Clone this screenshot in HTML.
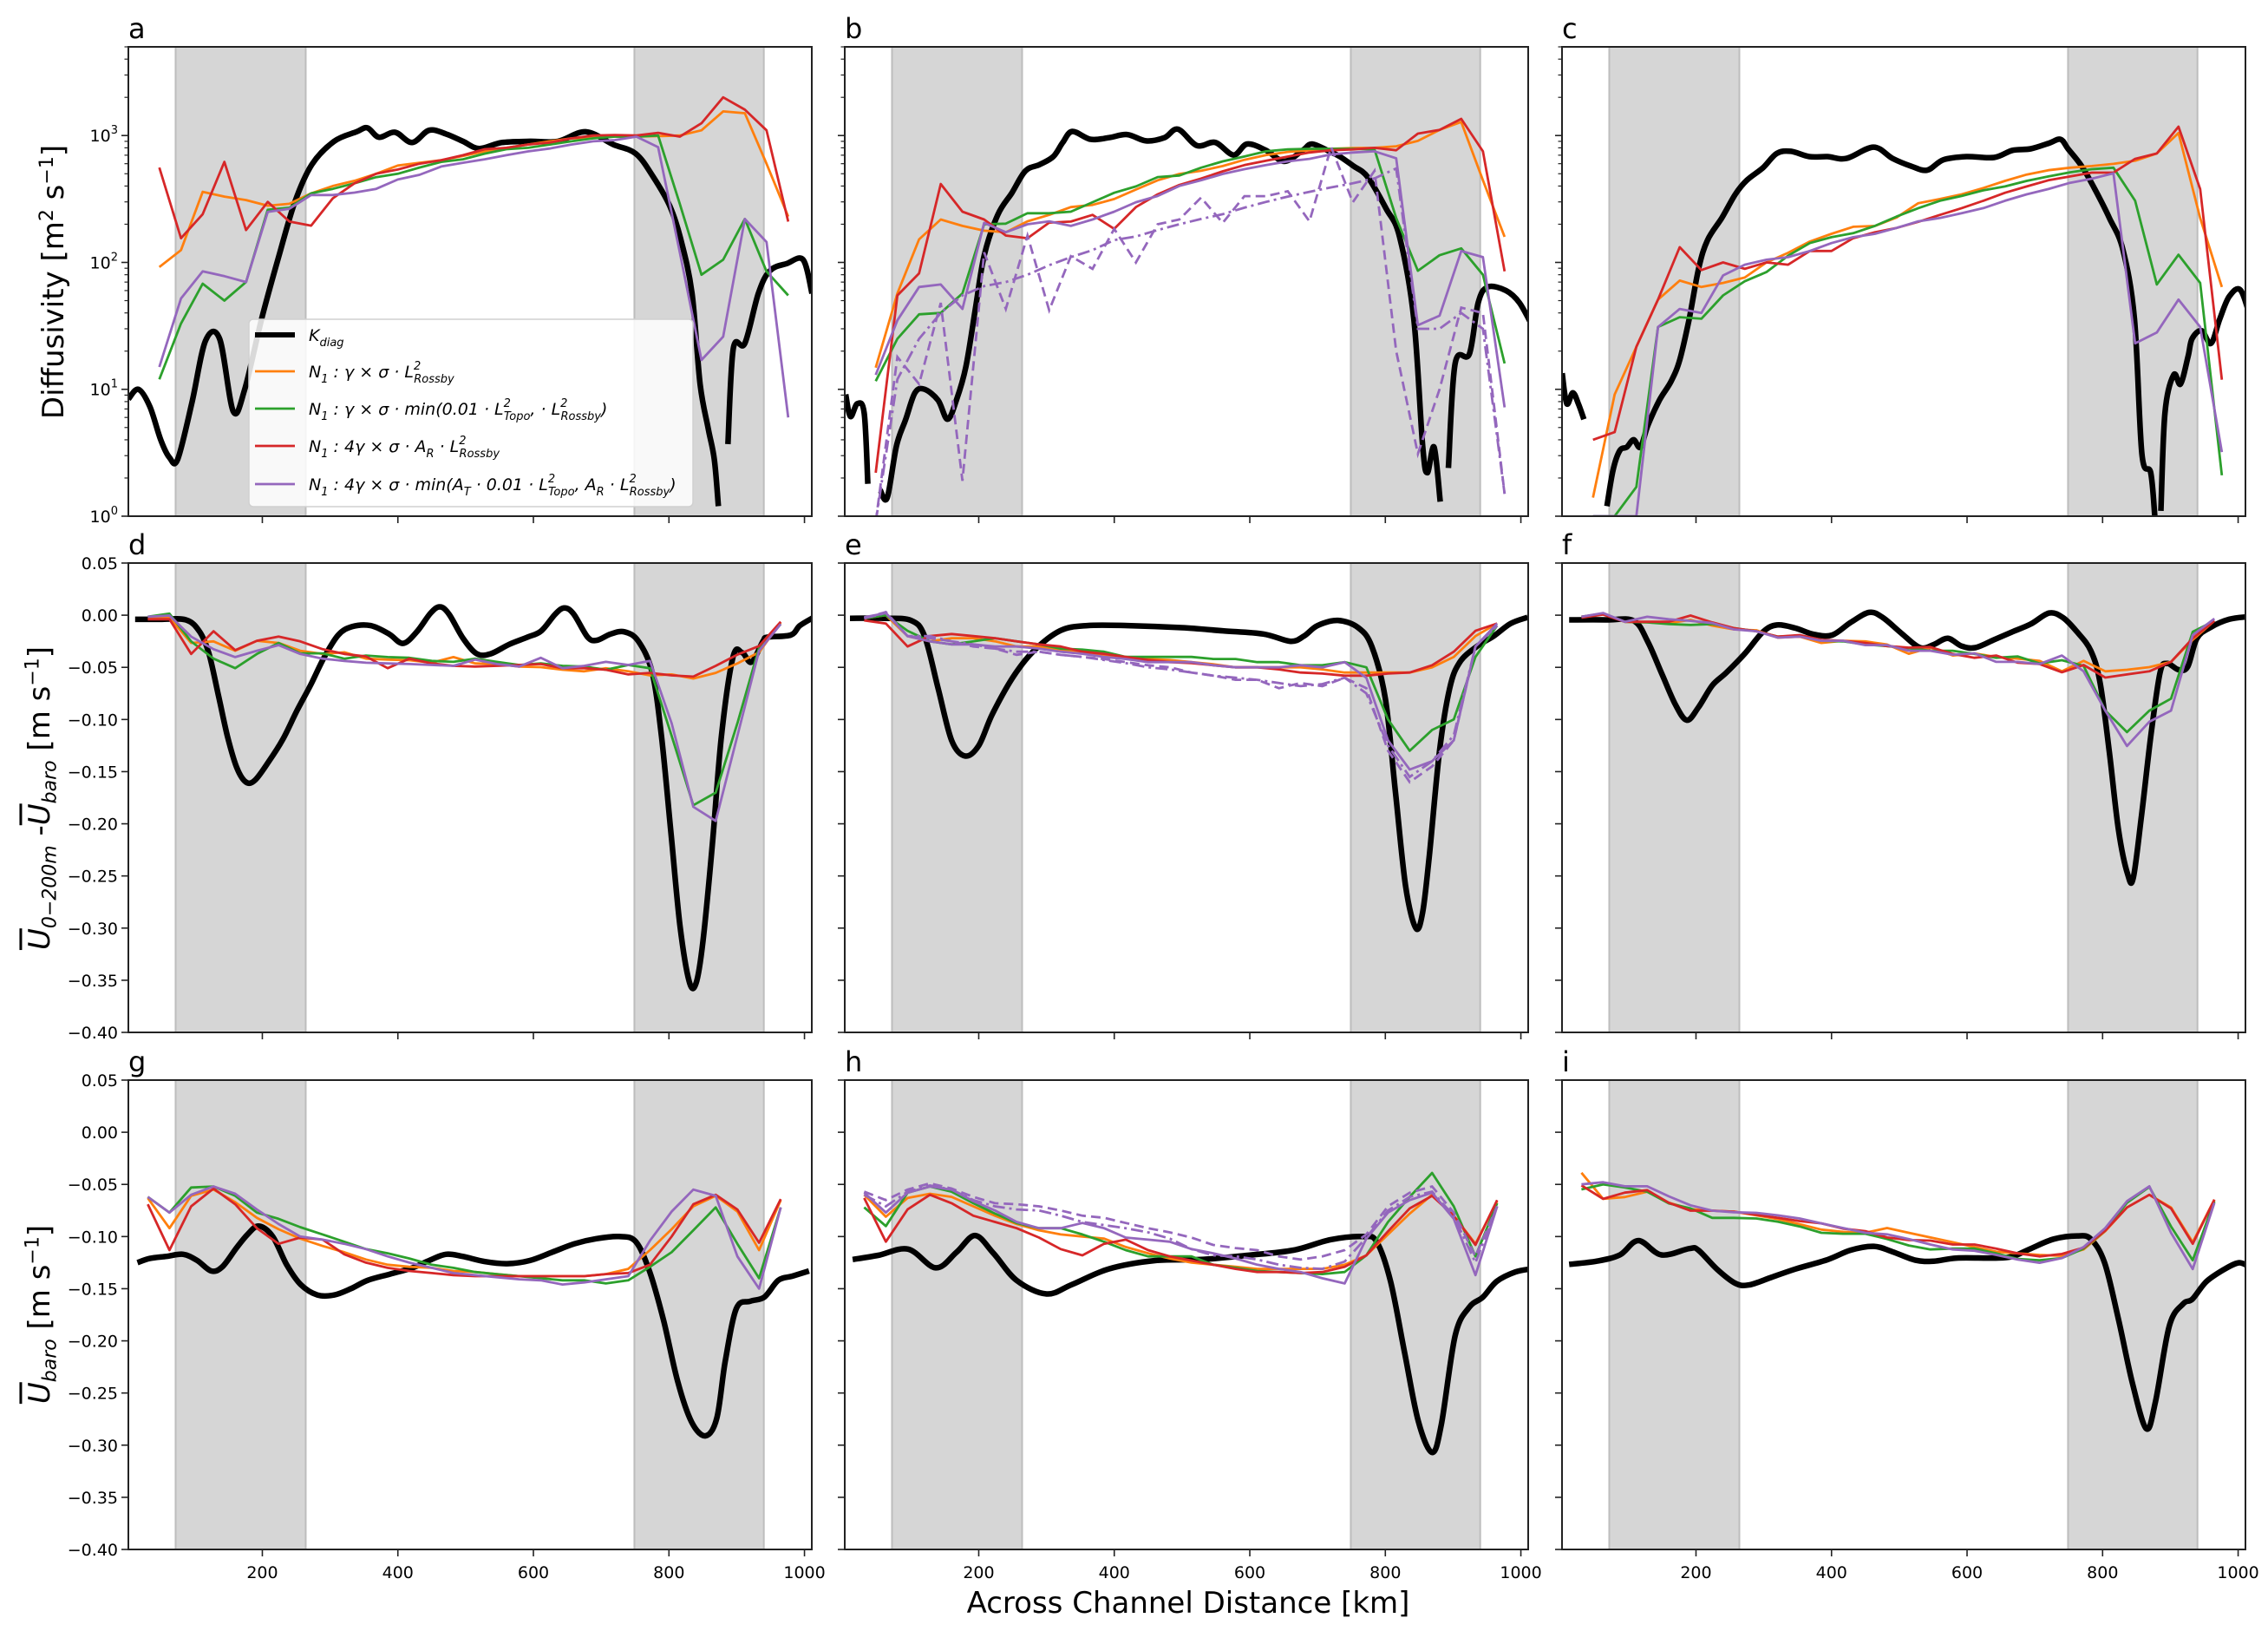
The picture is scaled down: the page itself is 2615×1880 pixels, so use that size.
<!DOCTYPE html>
<html><head><meta charset="utf-8">
<style>
body{margin:0;background:#fff;}
#wrap{position:relative;width:2615px;height:1880px;overflow:hidden;font-family:"DejaVu Sans","Liberation Sans",sans-serif;}
.ylab{position:absolute;white-space:nowrap;transform:translate(-50%,-50%) rotate(-90deg);font-size:34px;color:#000;}
.ov{text-decoration:overline;}
svg text{font-family:"DejaVu Sans","Liberation Sans",sans-serif;}
</style></head>
<body>
<div id="wrap">
<svg id="fig" width="2615" height="1880" xmlns="http://www.w3.org/2000/svg"></svg>
<div class="ylab" style="left:62px;top:325px;">Diffusivity [m<sup style="font-size:22px">2</sup> s<sup style="font-size:22px">−1</sup>]</div>
<div class="ylab" style="left:48px;top:920px;"><i class="ov">U</i><sub style="font-size:22px"><i>0−200m</i></sub> -<i class="ov">U</i><sub style="font-size:22px"><i>baro</i></sub> [m s<sup style="font-size:22px">−1</sup>]</div>
<div class="ylab" style="left:48px;top:1515px;"><i class="ov">U</i><sub style="font-size:22px"><i>baro</i></sub> [m s<sup style="font-size:22px">−1</sup>]</div>
<div style="position:absolute;left:1370px;top:1848px;transform:translate(-50%,-50%);font-size:34px;white-space:nowrap;">Across Channel Distance [km]</div>
</div>
<script>
// ---------- data ----------
const xModelTop=[48,80,112,144,176,208,240,272,304,336,368,400,432,464,496,528,560,592,624,656,688,720,752,784,816,848,880,912,944,976];
const xModelBot=[31,63,95,128,160,192,224,256,289,321,353,385,417,450,482,514,546,579,611,643,675,707,740,772,804,836,869,901,933,965];

const aBlackX=[2.6,17,34,50,63,75,96,116,137,157,174,199,224,248,273,306,339,355,372,396,421,446,471,496,520,553,595,636,677,718,751,776,801,817,834,846,858,867,873,880,887,895,912,932,949,974,998,1011];
const aBlackY=[8.4,10,7.3,4,2.9,2.8,7.8,24,25,6.7,10,36,110,300,590,900,1070,1150,970,1060,880,1100,1030,900,790,880,900,900,1070,850,720,480,280,155,57,11,4.9,2.8,1.2,null,3.7,21,23,57,86,98,105,57];
const aOrange=[92,125,360,330,310,280,290,350,400,440,500,580,610,640,690,750,800,850,900,950,960,980,980,990,1000,1100,1550,1500,600,230];
const aGreen=[12,33,68,50,70,260,270,350,380,420,470,500,560,620,650,720,780,800,850,900,950,980,980,1000,290,80,105,220,85,55];
const aRed=[560,155,240,620,180,300,210,195,320,420,500,540,600,640,700,780,800,850,880,950,1000,1010,1000,1050,980,1250,2000,1600,1100,210];
const aPurple=[15,52,85,78,70,250,265,340,340,355,380,450,490,570,610,650,700,750,790,850,900,920,980,810,120,17,26,220,145,6];

const bBlackX=[3.7,10.6,20.8,31,36.4,45,54.8,65,78.7,92.3,106,120,140,154,167,181,195,208,228,249,269,290,310,324,338,365,392,419,447,474,494,522,549,576,596,624,651,678,692,719,733,753,774,801,821,842,855,862,872,881,887,893,903,924,937,951,978,998,1019];
const bBlackY=[9.1,6.1,7.7,6.5,1.8,null,1.6,1.4,3.6,5.8,9.4,10,8.2,5.8,8.2,15,43,113,237,354,527,591,682,882,1077,933,962,1018,907,962,1122,834,882,702,857,764,626,764,857,743,682,575,471,266,159,36,3.6,2.2,3.5,1.3,null,2.4,16,19,48,64,60,48,30];
const bOrange=[14.8,57,152,218,194,178,173,211,237,273,284,316,375,444,498,527,575,644,702,743,765,786,796,800,823,907,1108,1278,444,159];
const bGreen=[11.6,25,39,40,57,200,202,244,244,251,298,354,397,471,484,558,626,683,751,778,786,786,786,778,224,86,114,129,80,16];
const bRed=[2.2,55,82,415,251,218,163,155,206,210,237,184,273,344,408,458,522,585,633,682,735,765,778,800,765,1035,1108,1354,751,85];
const bPurple=[13,35,64,67,43,205,173,200,211,194,218,251,298,334,401,444,498,543,585,626,655,710,735,751,662,32,38,123,110,7.2];
const bPurpleDash=[0.9,18,11,48,1.9,120,43,163,42,112,89,184,100,200,218,324,205,333,333,364,211,810,298,527,20,3.1,10,44,40,1.5];
const bPurpleDashDot=[0.9,12,25,40,55,65,70,80,95,110,125,150,160,180,200,220,240,270,300,330,360,390,420,460,550,30,30,40,30,1.5];

const cBlackX=[2.5,9.3,18.2,26.4,34.6,50,68.6,77.5,87.7,97.9,108,118,129,146,163,176,190,204,217,238,258,275,299,319,340,367,394,422,462,490,517,541,565,599,640,667,694,721,738,749,769,789,810,830,847,858,871,877,882,886,892,905,915,926,932,946,960,973,987,1004,1021];
const cBlackY=[13.4,7.7,9.4,7.7,5.8,null,1.2,2.3,3.3,3.5,4.0,3.5,5.2,8.2,11.5,17,36,90,150,224,344,444,558,722,751,682,682,660,810,660,575,533,644,682,672,764,786,871,934,786,575,374,224,126,36,3.1,2.2,1,null,1.1,6.5,13,11,18,25,29,23,36,54,60,32];
const cOrange=[1.4,9.1,21.6,51,72,64,69,76,100,119,146,168,191,194,226,293,316,344,386,439,493,533,558,575,598,633,722,1047,224,64];
const cGreen=[1,1,1.7,31,37,36,55,71,84,113,142,158,170,194,230,268,306,334,370,397,439,476,513,543,558,306,67,115,69,2.1];
const cRed=[4.0,4.6,21.6,51,132,87,100,89,100,96,123,123,155,173,187,209,237,268,306,354,397,444,476,510,510,655,722,1174,379,11.9];
const cPurple=[1,1,1,31,43,40,79,96,105,110,123,142,158,168,187,211,224,244,268,306,344,379,424,457,504,23,28,51,31,3.2];

const dBlackX=[12.3,46.3,87.2,107.6,121.3,134.9,148.5,162.2,175.8,189.4,209.8,230.3,250.7,271.2,291.6,312,332.5,359.7,387,407.4,427.9,448.3,462,475.5,496,516.4,536.9,564.1,591.4,611.8,632.2,645.9,659.5,680,693.6,714,734.4,754.9,775.3,789,802.6,816.2,829.8,840,850.3,863.9,877.5,894.6,908.2,921.8,938.8,945.6,979.7,993.3,1013.8];
const dBlackY=[-0.004,-0.004,-0.0045,-0.016,-0.037,-0.076,-0.116,-0.146,-0.160,-0.158,-0.140,-0.119,-0.092,-0.067,-0.040,-0.019,-0.011,-0.010,-0.018,-0.027,-0.016,0.002,0.008,0.001,-0.022,-0.037,-0.037,-0.028,-0.021,-0.015,0.001,0.007,0.001,-0.021,-0.024,-0.018,-0.016,-0.025,-0.055,-0.116,-0.206,-0.297,-0.351,-0.353,-0.312,-0.221,-0.116,-0.040,-0.036,-0.045,-0.025,-0.021,-0.019,-0.010,-0.002];
const dOrange=[-0.0033,-0.0024,-0.0266,-0.0251,-0.0341,-0.0245,-0.0266,-0.0341,-0.0372,-0.0356,-0.0417,-0.0426,-0.0432,-0.0456,-0.0402,-0.0462,-0.0468,-0.0492,-0.0498,-0.0523,-0.0538,-0.0508,-0.0538,-0.0577,-0.0568,-0.0607,-0.0553,-0.0462,-0.0356,-0.0069];
const dGreen=[-0.0015,0.0015,-0.0251,-0.0417,-0.0508,-0.0372,-0.0266,-0.0366,-0.0366,-0.0417,-0.0387,-0.0402,-0.0408,-0.0438,-0.0447,-0.0417,-0.0447,-0.0477,-0.0462,-0.0486,-0.0492,-0.0523,-0.0477,-0.0508,-0.1157,-0.1822,-0.1701,-0.1036,-0.0311,-0.0085];
const dRed=[-0.0039,-0.0039,-0.0372,-0.0154,-0.0335,-0.0245,-0.0205,-0.0251,-0.0326,-0.0372,-0.0396,-0.0508,-0.0417,-0.0462,-0.0486,-0.0492,-0.0486,-0.0477,-0.0468,-0.0508,-0.0508,-0.0523,-0.0568,-0.0553,-0.0577,-0.0589,-0.0486,-0.0378,-0.0296,-0.0063];
const dPurple=[-0.0015,-0.0003,-0.0205,-0.0326,-0.0402,-0.0341,-0.0287,-0.0372,-0.0417,-0.0438,-0.0456,-0.0462,-0.0468,-0.0477,-0.0486,-0.0426,-0.0468,-0.0492,-0.0408,-0.0508,-0.0486,-0.0447,-0.0477,-0.0438,-0.1036,-0.1837,-0.1973,-0.1157,-0.0341,-0.0085];

const eBlackX=[10,60,100,120,140,160,180,200,220,250,280,320,360,420,500,560,620,660,680,700,730,760,780,800,815,830,845,855,865,880,895,910,935,960,985,1010];
const eBlackY=[-0.003,-0.003,-0.005,-0.02,-0.07,-0.12,-0.135,-0.125,-0.095,-0.06,-0.035,-0.015,-0.01,-0.01,-0.012,-0.015,-0.018,-0.025,-0.02,-0.01,-0.005,-0.012,-0.03,-0.08,-0.17,-0.26,-0.3,-0.285,-0.23,-0.13,-0.07,-0.045,-0.03,-0.02,-0.008,-0.002];
const eOrange=[-0.003,0,-0.02,-0.025,-0.022,-0.022,-0.025,-0.03,-0.03,-0.033,-0.035,-0.038,-0.04,-0.042,-0.043,-0.045,-0.047,-0.05,-0.05,-0.05,-0.05,-0.052,-0.055,-0.055,-0.055,-0.055,-0.05,-0.04,-0.02,-0.008];
const eGreen=[-0.003,0,-0.015,-0.025,-0.028,-0.025,-0.022,-0.025,-0.028,-0.032,-0.033,-0.035,-0.04,-0.04,-0.04,-0.04,-0.042,-0.042,-0.045,-0.045,-0.048,-0.048,-0.045,-0.05,-0.1,-0.13,-0.11,-0.1,-0.04,-0.01];
const eRed=[-0.005,-0.008,-0.03,-0.02,-0.018,-0.02,-0.022,-0.025,-0.028,-0.03,-0.035,-0.037,-0.04,-0.043,-0.045,-0.046,-0.048,-0.05,-0.05,-0.052,-0.055,-0.056,-0.058,-0.058,-0.056,-0.055,-0.048,-0.035,-0.015,-0.008];
const ePurple=[-0.002,0.002,-0.02,-0.025,-0.028,-0.028,-0.03,-0.03,-0.032,-0.035,-0.037,-0.04,-0.042,-0.045,-0.045,-0.045,-0.048,-0.05,-0.05,-0.05,-0.048,-0.05,-0.045,-0.06,-0.12,-0.148,-0.14,-0.12,-0.03,-0.008];
const ePurpleDash=[-0.003,0.003,-0.02,-0.022,-0.025,-0.03,-0.032,-0.038,-0.035,-0.038,-0.04,-0.042,-0.045,-0.048,-0.05,-0.055,-0.058,-0.062,-0.062,-0.07,-0.065,-0.068,-0.06,-0.07,-0.13,-0.16,-0.145,-0.12,-0.03,-0.01];
const ePurpleDashDot=[-0.003,0.002,-0.02,-0.02,-0.025,-0.028,-0.032,-0.035,-0.035,-0.038,-0.04,-0.043,-0.046,-0.05,-0.052,-0.055,-0.058,-0.06,-0.062,-0.065,-0.068,-0.066,-0.06,-0.075,-0.125,-0.155,-0.14,-0.115,-0.03,-0.01];

const fBlackX=[12.8,67.3,108.1,128.6,149,169.5,186.5,203.5,224,244.4,271.6,298.9,319.3,346.6,373.8,401.1,428.3,455.6,476,503.3,530.5,551,571.4,591.9,612.3,639.5,666.8,694,721.3,741.7,762.2,782.6,796.2,809.9,823.5,837.1,845.3,857.6,871.2,884.8,895,912.1,925.7,939.3,959.8,987,1014.3];
const fBlackY=[-0.0045,-0.0045,-0.0054,-0.0251,-0.0553,-0.0855,-0.1006,-0.0885,-0.0674,-0.0553,-0.0372,-0.016,-0.0094,-0.0124,-0.0184,-0.019,-0.0069,0.0027,-0.0024,-0.0175,-0.0311,-0.0281,-0.0221,-0.0296,-0.0311,-0.0236,-0.016,-0.0085,0.0021,-0.0024,-0.016,-0.0341,-0.0644,-0.1308,-0.2063,-0.2486,-0.2517,-0.1912,-0.1157,-0.0553,-0.0462,-0.0523,-0.0492,-0.0221,-0.0115,-0.0039,-0.0015];
const fOrange=[-0.0015,0.0015,-0.0063,-0.0069,-0.0076,-0.0045,-0.01,-0.0136,-0.0145,-0.0215,-0.0205,-0.0266,-0.0245,-0.0251,-0.0281,-0.037,-0.0311,-0.0387,-0.0366,-0.0402,-0.0417,-0.0438,-0.0538,-0.0438,-0.0538,-0.0523,-0.0498,-0.0447,-0.0236,-0.0054];
const fGreen=[-0.0015,0.0015,-0.0063,-0.0069,-0.0085,-0.0094,-0.0085,-0.0124,-0.0154,-0.0205,-0.0196,-0.0245,-0.0251,-0.0281,-0.0296,-0.0317,-0.0341,-0.0341,-0.0372,-0.0408,-0.0396,-0.0462,-0.0432,-0.0486,-0.0915,-0.1121,-0.0915,-0.08,-0.016,-0.0054];
const fRed=[-0.0024,0.0006,-0.0063,-0.0063,-0.0063,-0.0003,-0.0069,-0.0124,-0.0154,-0.0205,-0.019,-0.0236,-0.0245,-0.0266,-0.0296,-0.0311,-0.0305,-0.0372,-0.0408,-0.0387,-0.0456,-0.0468,-0.0547,-0.0477,-0.0598,-0.0568,-0.0538,-0.0447,-0.0221,-0.0054];
const fPurple=[-0.0015,0.0021,-0.0063,-0.0015,-0.0039,-0.0054,-0.0076,-0.0136,-0.0154,-0.0215,-0.0205,-0.0245,-0.0245,-0.0287,-0.0287,-0.0341,-0.0341,-0.0378,-0.0366,-0.0447,-0.0447,-0.0468,-0.0387,-0.0538,-0.0915,-0.1254,-0.1021,-0.0915,-0.019,-0.0033];

const gBlackX=[15.7,33.9,58.6,83.3,104,124.6,141,161.7,178.2,194.6,215.3,235.9,256.5,281.2,305.9,330.7,355.4,388.4,421.3,446.1,470.8,495.5,528.5,561.5,594.5,627.5,660.4,693.4,726.4,751.1,771.7,792.3,812.9,833.6,854.2,870.7,883,899.5,920,940.8,961.3,982,1006.7];
const gBlackY=[-0.125,-0.121,-0.119,-0.117,-0.123,-0.133,-0.129,-0.111,-0.098,-0.090,-0.100,-0.127,-0.146,-0.156,-0.156,-0.150,-0.142,-0.136,-0.130,-0.123,-0.117,-0.119,-0.124,-0.126,-0.123,-0.115,-0.107,-0.102,-0.100,-0.105,-0.134,-0.181,-0.239,-0.278,-0.291,-0.274,-0.220,-0.169,-0.162,-0.158,-0.142,-0.138,-0.133];
const gOrange=[-0.063,-0.092,-0.061,-0.055,-0.067,-0.082,-0.093,-0.102,-0.109,-0.115,-0.122,-0.127,-0.129,-0.130,-0.133,-0.134,-0.136,-0.138,-0.138,-0.138,-0.138,-0.136,-0.131,-0.113,-0.093,-0.071,-0.061,-0.076,-0.113,-0.065];
const gGreen=[-0.062,-0.077,-0.053,-0.052,-0.061,-0.077,-0.083,-0.091,-0.098,-0.105,-0.112,-0.116,-0.121,-0.127,-0.130,-0.134,-0.136,-0.138,-0.140,-0.142,-0.142,-0.145,-0.142,-0.129,-0.115,-0.094,-0.072,-0.107,-0.140,-0.072];
const gRed=[-0.069,-0.113,-0.071,-0.054,-0.069,-0.092,-0.107,-0.101,-0.103,-0.117,-0.125,-0.130,-0.133,-0.135,-0.137,-0.138,-0.138,-0.138,-0.138,-0.138,-0.138,-0.136,-0.135,-0.127,-0.100,-0.069,-0.060,-0.074,-0.106,-0.064];
const gPurple=[-0.062,-0.077,-0.060,-0.052,-0.059,-0.074,-0.088,-0.100,-0.103,-0.107,-0.112,-0.119,-0.125,-0.130,-0.135,-0.137,-0.139,-0.141,-0.142,-0.146,-0.144,-0.141,-0.138,-0.104,-0.076,-0.055,-0.061,-0.119,-0.150,-0.072];

const hBlackX=[14,51.4,95.7,136.6,167.3,194.5,221.8,255.8,300.1,337.6,392.1,460.2,528.3,596.5,664.6,719.1,766.8,787.2,807.7,828.1,848.6,869,882.7,903.1,923.5,944,964.4,991.7,1015.5];
const hBlackY=[-0.122,-0.118,-0.112,-0.130,-0.115,-0.099,-0.116,-0.142,-0.155,-0.146,-0.131,-0.123,-0.122,-0.118,-0.113,-0.103,-0.100,-0.105,-0.143,-0.21,-0.277,-0.307,-0.28,-0.195,-0.168,-0.158,-0.143,-0.134,-0.131];
const hOrange=[-0.06,-0.081,-0.063,-0.059,-0.062,-0.071,-0.08,-0.088,-0.094,-0.098,-0.1,-0.102,-0.11,-0.116,-0.121,-0.125,-0.127,-0.129,-0.131,-0.131,-0.131,-0.131,-0.127,-0.118,-0.098,-0.078,-0.06,-0.08,-0.107,-0.066];
const hGreen=[-0.072,-0.09,-0.058,-0.052,-0.057,-0.068,-0.078,-0.087,-0.092,-0.092,-0.098,-0.105,-0.113,-0.119,-0.119,-0.119,-0.127,-0.13,-0.133,-0.134,-0.135,-0.136,-0.134,-0.118,-0.086,-0.062,-0.039,-0.071,-0.119,-0.068];
const hRed=[-0.063,-0.105,-0.074,-0.06,-0.068,-0.08,-0.086,-0.092,-0.101,-0.112,-0.118,-0.107,-0.103,-0.113,-0.119,-0.123,-0.127,-0.131,-0.134,-0.134,-0.135,-0.134,-0.129,-0.118,-0.095,-0.073,-0.061,-0.08,-0.108,-0.065];
const hPurple=[-0.058,-0.077,-0.058,-0.052,-0.055,-0.066,-0.075,-0.086,-0.092,-0.092,-0.087,-0.092,-0.101,-0.103,-0.105,-0.112,-0.116,-0.121,-0.127,-0.131,-0.134,-0.14,-0.145,-0.102,-0.077,-0.065,-0.058,-0.083,-0.137,-0.071];
const hPurpleDash=[-0.057,-0.065,-0.055,-0.049,-0.054,-0.062,-0.068,-0.069,-0.071,-0.075,-0.08,-0.082,-0.087,-0.092,-0.096,-0.101,-0.108,-0.111,-0.113,-0.119,-0.122,-0.119,-0.113,-0.098,-0.071,-0.058,-0.052,-0.077,-0.119,-0.071];
const hPurpleDashDot=[-0.06,-0.071,-0.057,-0.051,-0.055,-0.065,-0.071,-0.074,-0.075,-0.08,-0.086,-0.089,-0.092,-0.096,-0.102,-0.112,-0.118,-0.119,-0.122,-0.127,-0.13,-0.131,-0.124,-0.101,-0.075,-0.062,-0.057,-0.08,-0.125,-0.071];

const iBlackX=[12.8,53.6,87.7,115,149,190,203.5,230.8,258,278.5,312.5,346.6,394.3,428.3,462.4,489.7,523.7,551,585,639.5,666.8,694,728.1,762.2,782.6,803,823.5,843.9,864.4,878,898.4,918.9,932.5,953,980.2,1000.6,1014.3];
const iBlackY=[-0.1267,-0.1236,-0.1176,-0.1039,-0.1176,-0.1115,-0.113,-0.1312,-0.1448,-0.1464,-0.1388,-0.1312,-0.1221,-0.113,-0.1094,-0.1145,-0.1227,-0.1236,-0.1206,-0.1206,-0.1191,-0.1115,-0.1024,-0.0994,-0.1024,-0.1252,-0.1797,-0.2403,-0.2842,-0.2585,-0.1858,-0.1645,-0.16,-0.1433,-0.1312,-0.1252,-0.1282];
const iOrange=[-0.0388,-0.0639,-0.0621,-0.057,-0.0676,-0.0736,-0.0752,-0.0761,-0.0797,-0.0833,-0.0882,-0.0933,-0.0955,-0.0964,-0.0918,-0.0964,-0.1009,-0.1055,-0.11,-0.1145,-0.1161,-0.1176,-0.1185,-0.1124,-0.0948,-0.0721,-0.06,-0.0721,-0.1055,-0.0645];
const iGreen=[-0.0548,-0.05,-0.053,-0.057,-0.0682,-0.073,-0.0821,-0.0821,-0.0827,-0.0858,-0.0903,-0.0964,-0.0973,-0.0973,-0.1024,-0.1085,-0.1124,-0.1115,-0.1115,-0.1161,-0.1215,-0.1227,-0.1206,-0.1115,-0.0942,-0.0676,-0.0524,-0.0903,-0.1227,-0.0661];
const iRed=[-0.0509,-0.0639,-0.0579,-0.0555,-0.0676,-0.0752,-0.0752,-0.0761,-0.0791,-0.0821,-0.0852,-0.0873,-0.0924,-0.0948,-0.1009,-0.1033,-0.1039,-0.1076,-0.1076,-0.1115,-0.1161,-0.1191,-0.1167,-0.1106,-0.0942,-0.0721,-0.06,-0.073,-0.107,-0.0645];
const iPurple=[-0.05,-0.0479,-0.0518,-0.0518,-0.0615,-0.07,-0.0752,-0.0767,-0.0773,-0.0797,-0.0827,-0.0873,-0.0918,-0.0964,-0.0979,-0.1024,-0.1076,-0.1124,-0.1136,-0.1176,-0.1221,-0.1252,-0.1206,-0.11,-0.0918,-0.0661,-0.0518,-0.0964,-0.1312,-0.0676];

const xTicks=[200,400,600,800,1000];
const linTicks=[0.05,0,-0.05,-0.10,-0.15,-0.20,-0.25,-0.30,-0.35,-0.40];
const linTickLabels=["0.05","0.00","−0.05","−0.10","−0.15","−0.20","−0.25","−0.30","−0.35","−0.40"];
const logTicks=[1,10,100,1000];
const logTickExp=["0","1","2","3"];
const bands=[[72,264],[749,940]];

// ---------- layout ----------
const NS="http://www.w3.org/2000/svg";
const svg=document.getElementById('fig');
const W=788,H=541;
const cols=[148,974,1801], rows=[54,649,1245];
const XMIN=2.3,XMAX=1010.8,LOGMAX=Math.log10(5000),YTOP=0.05,YBOT=-0.40;
const COL={orange:'#ff7f0e',green:'#2ca02c',red:'#d62728',purple:'#9467bd'};

function el(tag,attrs,parent){const e=document.createElementNS(NS,tag);for(const k in attrs)e.setAttribute(k,attrs[k]);(parent||svg).appendChild(e);return e;}
function sx(c,km){return cols[c]+(km-XMIN)/(XMAX-XMIN)*W;}
function syFn(r,log){return v=>{
  if(v===null||v===undefined)return null;
  if(log){if(v<=0)return null;return rows[r]+H-Math.log10(v)/LOGMAX*H;}
  return rows[r]+(YTOP-v)/(YTOP-YBOT)*H;};}

const panels=[
 {id:'a',c:0,r:0,log:true,bx:aBlackX,by:aBlackY,mx:xModelTop,s:{orange:aOrange,green:aGreen,red:aRed,purple:aPurple}},
 {id:'b',c:1,r:0,log:true,bx:bBlackX,by:bBlackY,mx:xModelTop,s:{orange:bOrange,green:bGreen,red:bRed,purple:bPurple},dash:bPurpleDash,dashdot:bPurpleDashDot},
 {id:'c',c:2,r:0,log:true,bx:cBlackX,by:cBlackY,mx:xModelTop,s:{orange:cOrange,green:cGreen,red:cRed,purple:cPurple}},
 {id:'d',c:0,r:1,log:false,bx:dBlackX,by:dBlackY,mx:xModelBot,s:{orange:dOrange,green:dGreen,red:dRed,purple:dPurple}},
 {id:'e',c:1,r:1,log:false,bx:eBlackX,by:eBlackY,mx:xModelBot,s:{orange:eOrange,green:eGreen,red:eRed,purple:ePurple},dash:ePurpleDash,dashdot:ePurpleDashDot},
 {id:'f',c:2,r:1,log:false,bx:fBlackX,by:fBlackY,mx:xModelBot,s:{orange:fOrange,green:fGreen,red:fRed,purple:fPurple}},
 {id:'g',c:0,r:2,log:false,bx:gBlackX,by:gBlackY,mx:xModelBot,s:{orange:gOrange,green:gGreen,red:gRed,purple:gPurple}},
 {id:'h',c:1,r:2,log:false,bx:hBlackX,by:hBlackY,mx:xModelBot,s:{orange:hOrange,green:hGreen,red:hRed,purple:hPurple},dash:hPurpleDash,dashdot:hPurpleDashDot},
 {id:'i',c:2,r:2,log:false,bx:iBlackX,by:iBlackY,mx:xModelBot,s:{orange:iOrange,green:iGreen,red:iRed,purple:iPurple}}
];

function pathFrom(c,xs,ys,sy){
  let d='',pen=false;
  for(let k=0;k<xs.length;k++){
    const y=sy(ys[k]);
    if(y===null){pen=false;continue;}
    const x=sx(c,xs[k]);
    d+=(pen?'L':'M')+x.toFixed(1)+' '+y.toFixed(1)+' ';pen=true;
  }
  return d;
}
function smoothFrom(c,xs,ys,sy){
  const segs=[];let cur=[];
  for(let k=0;k<xs.length;k++){
    const y=sy(ys[k]);
    if(y===null){if(cur.length)segs.push(cur);cur=[];continue;}
    cur.push([sx(c,xs[k]),y]);
  }
  if(cur.length)segs.push(cur);
  let d='';
  segs.forEach(P=>{
    d+='M'+P[0][0].toFixed(1)+' '+P[0][1].toFixed(1)+' ';
    for(let i=0;i<P.length-1;i++){
      const p0=P[Math.max(i-1,0)],p1=P[i],p2=P[i+1],p3=P[Math.min(i+2,P.length-1)];
      const c1x=p1[0]+(p2[0]-p0[0])/6,c1y=p1[1]+(p2[1]-p0[1])/6;
      const c2x=p2[0]-(p3[0]-p1[0])/6,c2y=p2[1]-(p3[1]-p1[1])/6;
      d+='C'+c1x.toFixed(1)+' '+c1y.toFixed(1)+' '+c2x.toFixed(1)+' '+c2y.toFixed(1)+' '+p2[0].toFixed(1)+' '+p2[1].toFixed(1)+' ';
    }
  });
  return d;
}

const defs=el('defs',{});
panels.forEach(p=>{
  const L=cols[p.c],T=rows[p.r],sy=syFn(p.r,p.log);
  const cp=el('clipPath',{id:'clip-'+p.id},defs);
  el('rect',{x:L,y:T,width:W,height:H},cp);
  const g=el('g',{});
  
  
  bands.forEach((b,bi)=>{
    const x1=sx(p.c,b[0]),x2=sx(p.c,b[1]);
    const r=el('rect',{x:x1,y:T,width:x2-x1,height:H,fill:'#d6d6d6',stroke:'#bdbdbd','stroke-width':2},g);
    
    
  });
  const lg=el('g',{'clip-path':'url(#clip-'+p.id+')'},g);
  const bl=el('path',{d:smoothFrom(p.c,p.bx,p.by,sy),fill:'none',stroke:'#000','stroke-width':6.5,'stroke-linejoin':'round','stroke-linecap':'butt'},lg);
  
  
  ['orange','green','red','purple'].forEach(k=>{
    const ln=el('path',{d:pathFrom(p.c,p.mx,p.s[k],sy),fill:'none',stroke:COL[k],'stroke-width':2.8,'stroke-linejoin':'round'},lg);
    
    
  });
  if(p.dash){
    const ln=el('path',{d:pathFrom(p.c,p.mx,p.dash,sy),fill:'none',stroke:COL.purple,'stroke-width':2.8,'stroke-dasharray':'11 6'},lg);
    
    
  }
  if(p.dashdot){
    const ln=el('path',{d:pathFrom(p.c,p.mx,p.dashdot,sy),fill:'none',stroke:COL.purple,'stroke-width':2.8,'stroke-dasharray':'14 5 3 5'},lg);
    
    
  }
  const fr=el('rect',{x:L,y:T,width:W,height:H,fill:'none',stroke:'#222','stroke-width':2},g);
  
  
  xTicks.forEach(t=>{
    const x=sx(p.c,t);
    el('line',{x1:x,y1:T+H,x2:x,y2:T+H+8,stroke:'#222','stroke-width':1.6},g);
    if(p.r===2){
      const tx=el('text',{x:x,y:T+H+33,'font-size':19,'text-anchor':'middle',fill:'#000'},g);
      tx.textContent=t;
      
      
    }
  });
  if(p.log){
    for(let dec=0;dec<4;dec++){
      for(let m=1;m<10;m++){
        const v=m*Math.pow(10,dec);
        if(Math.log10(v)>LOGMAX)break;
        const y=sy(v);
        el('line',{x1:L,y1:y,x2:L-(m===1?8:4.5),y2:y,stroke:'#222','stroke-width':m===1?1.6:1.2},g);
      }
    }
    if(p.c===0){
      logTicks.forEach((v,ti)=>{
        const tx=el('text',{x:L-12,y:sy(v)+7,'font-size':19,'text-anchor':'end',fill:'#000'},g);
        tx.textContent='10';
        const sp=el('tspan',{'font-size':13,dy:-9},tx);
        sp.textContent=logTickExp[ti];
        
        
      });
    }
  } else {
    linTicks.forEach((v,ti)=>{
      const y=sy(v);
      el('line',{x1:L,y1:y,x2:L-8,y2:y,stroke:'#222','stroke-width':1.6},g);
      if(p.c===0){
        const tx=el('text',{x:L-12,y:y+7,'font-size':19,'text-anchor':'end',fill:'#000'},g);
        tx.textContent=linTickLabels[ti];
        
        
      }
    });
  }
  const lt=el('text',{x:L,y:T-10,'font-size':32,fill:'#000'},g);
  lt.textContent=p.id;
  
  
});

// ---------- legend (panel a) ----------
const lgG=el('g',{});


el('rect',{x:287,y:368,width:512,height:216,rx:5,fill:'#ffffff','fill-opacity':0.85,stroke:'#d0d0d0','stroke-width':1.5},lgG);
const legendItems=[
 {col:'#000',w:6,parts:[['K',0],['diag',1]]},
 {col:COL.orange,w:2.8,parts:[['N',0],['1',1],[' : γ × σ · L',0],['2',2],['Rossby',1]]},
 {col:COL.green,w:2.8,parts:[['N',0],['1',1],[' : γ × σ · min(0.01 · L',0],['2',2],['Topo',1],[', · L',0],['2',2],['Rossby',1],[')',0]]},
 {col:COL.red,w:2.8,parts:[['N',0],['1',1],[' : 4γ × σ · A',0],['R',1],[' · L',0],['2',2],['Rossby',1]]},
 {col:COL.purple,w:2.8,parts:[['N',0],['1',1],[' : 4γ × σ · min(A',0],['T',1],[' · 0.01 · L',0],['2',2],['Topo',1],[', A',0],['R',1],[' · L',0],['2',2],['Rossby',1],[')',0]]}
];
const legY=[386,428,471,514,558];
legendItems.forEach((it,i)=>{
  const y=legY[i];
  const ln=el('line',{x1:294,y1:y,x2:340,y2:y,stroke:it.col,'stroke-width':it.w},lgG);
  
  
  const tx=el('text',{x:356,y:y+7,'font-size':19,'font-style':'italic',fill:'#000'},lgG);
  
  
  let state=0;
  it.parts.forEach(pt=>{
    const [txt,kind]=pt;
    const target=kind===0?0:(kind===1?6:-9);
    const dy=target-state; state=target;
    const sp=el('tspan',{dy:dy,'font-size':kind===0?19:13},tx);
    sp.textContent=txt;
  });
  const sps=tx.querySelectorAll('tspan');
  for(let k=1;k<sps.length;k++){
    if(it.parts[k][1]===1&&it.parts[k-1][1]===2){
      sps[k].setAttribute('dx',-8);
    }
  }
});
</script>
</body></html>
